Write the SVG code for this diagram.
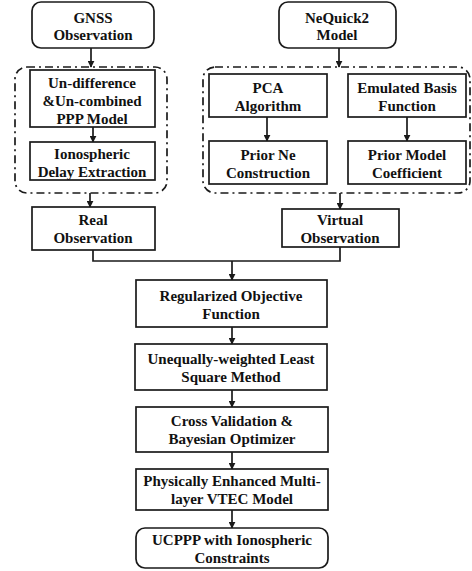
<svg xmlns="http://www.w3.org/2000/svg" width="472" height="571" viewBox="0 0 472 571">
<defs>
<marker id="ah" viewBox="0 0 10 10" refX="9" refY="5" markerWidth="7" markerHeight="7" markerUnits="userSpaceOnUse" orient="auto">
<path d="M0,0 L10,5 L0,10 z" fill="#1a1a1a"/>
</marker>
<style>
.box{fill:#fff;stroke:#1a1a1a;stroke-width:1.7}
.grp{fill:none;stroke:#1a1a1a;stroke-width:1.7;stroke-dasharray:8 4 2 4}
.t{font-family:'Liberation Serif','Times New Roman',serif;font-weight:bold;font-size:15px;fill:#111;text-anchor:middle}
.c{fill:none;stroke:#1a1a1a;stroke-width:1.7}
</style>
</defs>
<rect width="472" height="571" fill="#fff"/>
<g id="group-left"><rect class="grp" x="15" y="67" width="152" height="126" rx="12"/></g>
<g id="group-right"><rect class="grp" x="203" y="67" width="267" height="126" rx="12"/></g>
<g id="connectors">
<line class="c" x1="91" y1="48" x2="91" y2="67" marker-end="url(#ah)"/>
<line class="c" x1="93" y1="127" x2="93" y2="142" marker-end="url(#ah)"/>
<line class="c" x1="90" y1="193" x2="90" y2="207" marker-end="url(#ah)"/>
<line class="c" x1="339" y1="48" x2="339" y2="67" marker-end="url(#ah)"/>
<line class="c" x1="267" y1="117" x2="267" y2="141" marker-end="url(#ah)"/>
<line class="c" x1="407" y1="117" x2="407" y2="141" marker-end="url(#ah)"/>
<line class="c" x1="340" y1="193" x2="340" y2="209" marker-end="url(#ah)"/>
<polyline class="c" points="93,250 93,261 340,261 340,247"/>
<line class="c" x1="232" y1="261" x2="232" y2="280" marker-end="url(#ah)"/>
<line class="c" x1="232" y1="327" x2="232" y2="344" marker-end="url(#ah)"/>
<line class="c" x1="232" y1="390" x2="232" y2="407" marker-end="url(#ah)"/>
<line class="c" x1="232" y1="452" x2="232" y2="469" marker-end="url(#ah)"/>
<line class="c" x1="232" y1="510" x2="232" y2="528" marker-end="url(#ah)"/>
</g>
<g font-family="Liberation Serif, serif">
<g id="gnss"><rect class="box" x="32" y="2" width="122" height="46" rx="9"/><text class="t" x="93" y="23">GNSS</text><text class="t" x="93" y="40">Observation</text></g>
<g id="ppp"><rect class="box" x="30" y="70" width="125" height="57"/><text class="t" x="92" y="88">Un-difference</text><text class="t" x="92" y="106">&amp;Un-combined</text><text class="t" x="92" y="124">PPP Model</text></g>
<g id="iono"><rect class="box" x="30" y="142" width="125" height="38"/><text class="t" x="92" y="159">Ionospheric</text><text class="t" x="92" y="177">Delay Extraction</text></g>
<g id="nequick"><rect class="box" x="279" y="2" width="117" height="46" rx="9"/><text class="t" x="337" y="23">NeQuick2</text><text class="t" x="337" y="40">Model</text></g>
<g id="pca"><rect class="box" x="209" y="74" width="118" height="43"/><text class="t" x="268" y="93">PCA</text><text class="t" x="268" y="111">Algorithm</text></g>
<g id="priorne"><rect class="box" x="209" y="141" width="118" height="43"/><text class="t" x="268" y="160">Prior Ne</text><text class="t" x="268" y="178">Construction</text></g>
<g id="ebf"><rect class="box" x="348" y="74" width="118" height="43"/><text class="t" x="407" y="93">Emulated Basis</text><text class="t" x="407" y="111">Function</text></g>
<g id="pmc"><rect class="box" x="348" y="141" width="118" height="43"/><text class="t" x="407" y="160">Prior Model</text><text class="t" x="407" y="178">Coefficient</text></g>
<g id="real"><rect class="box" x="32" y="207" width="123" height="43"/><text class="t" x="93" y="225">Real</text><text class="t" x="93" y="243">Observation</text></g>
<g id="virtual"><rect class="box" x="282" y="209" width="117" height="38"/><text class="t" x="340" y="225">Virtual</text><text class="t" x="340" y="243">Observation</text></g>
<g id="rof"><rect class="box" x="136" y="280" width="191" height="47"/><text class="t" x="231" y="301">Regularized Objective</text><text class="t" x="231" y="319">Function</text></g>
<g id="ulsm"><rect class="box" x="135" y="344" width="192" height="46"/><text class="t" x="231" y="364">Unequally-weighted Least</text><text class="t" x="231" y="382">Square Method</text></g>
<g id="cv"><rect class="box" x="136" y="407" width="192" height="45"/><text class="t" x="232" y="426">Cross Validation &amp;</text><text class="t" x="232" y="444">Bayesian Optimizer</text></g>
<g id="pem"><rect class="box" x="136" y="469" width="192" height="41"/><text class="t" x="232" y="486">Physically Enhanced Multi-</text><text class="t" x="232" y="504">layer VTEC Model</text></g>
<g id="ucppp"><rect class="box" x="136" y="528" width="192" height="40" rx="9"/><text class="t" x="232" y="545">UCPPP with Ionospheric</text><text class="t" x="232" y="563">Constraints</text></g>
</g>
</svg>
